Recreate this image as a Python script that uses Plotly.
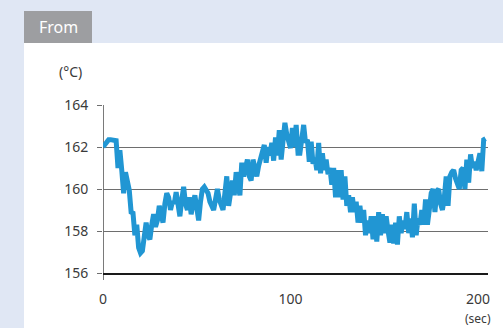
import plotly.graph_objects as go

seconds = list(range(0, 205))
temperature = [
    162.00, 162.15, 162.30, 162.35, 162.35, 162.35, 162.35, 162.30, 161.00, 161.85,
    160.90, 159.80, 160.80, 160.20, 159.95, 158.90, 158.85, 157.80, 158.30, 157.20,
    156.95, 157.05, 157.90, 158.40, 157.80, 157.60, 158.30, 158.80, 158.20, 158.50,
    159.20, 158.70, 158.40, 159.30, 159.80, 159.60, 159.00, 159.40, 159.30, 159.85,
    159.40, 158.70, 159.50, 160.10, 159.30, 159.00, 159.60, 158.80, 159.30, 159.70,
    159.10, 158.50, 159.40, 160.00, 160.10, 159.90, 159.80, 159.40, 159.20, 159.00,
    159.50, 160.00, 159.50, 159.20, 159.00, 159.80, 160.60, 159.20, 159.90, 160.40,
    159.70, 160.80, 160.20, 159.70, 161.25, 160.60, 161.00, 161.40, 160.60, 160.40,
    161.40, 161.00, 160.60, 161.10, 161.50, 161.70, 162.10, 161.25, 162.00, 161.60,
    162.20, 161.35, 162.45, 161.60, 162.80, 161.40, 162.30, 163.15, 162.60, 162.20,
    161.95, 162.90, 162.00, 163.05, 161.70, 161.70, 162.50, 163.05, 162.20, 162.35,
    161.30, 162.25, 161.20, 161.50, 160.90, 162.20, 160.75, 161.70, 160.90, 161.40,
    160.70, 161.00, 160.20, 161.00, 159.60, 160.90, 159.60, 160.90, 159.50, 160.60,
    159.20, 159.70, 158.90, 159.60, 158.90, 159.40, 158.40, 159.20, 158.40, 159.00,
    157.80, 158.50, 157.90, 158.70, 157.60, 158.70, 157.50, 158.90, 157.80, 158.80,
    157.90, 158.70, 158.00, 157.45, 158.30, 157.40, 158.40, 157.35, 158.70, 157.90,
    158.50, 158.10, 158.90, 157.90, 158.60, 157.70, 159.30, 157.80, 158.60, 158.30,
    159.00, 158.30, 159.50, 158.30, 159.00, 159.80, 160.00, 158.90, 159.90, 160.00,
    159.30, 159.00, 159.60, 160.60, 159.20, 160.60, 160.80, 160.90, 160.50, 160.30,
    160.00, 160.90, 161.00, 160.00, 161.40, 160.30, 161.65, 161.00, 161.30, 160.90,
    161.40, 161.70, 160.85, 162.35, 162.40,
]
y_ticks = [156, 158, 160, 162, 164]
x_ticks = [0, 100, 200]
tab_label = "From"
y_unit = "(°C)"
x_unit = "(sec)"

W, H = 503, 328
ML, MR, MT, MB = 103, 15, 105, 55
PW, PH = W - ML - MR, H - MT - MB
FONT = "Noto Sans, Open Sans, sans-serif"

fig = go.Figure()
fig.add_trace(go.Scatter(
    x=seconds, y=temperature, mode="lines",
    line=dict(color="#2196d3", width=5, shape="linear"),
    hoverinfo="skip", showlegend=False,
))

def px_x(p):
    return (p - ML) / PW

def px_y(p):
    return (H - MB - p) / PH

shapes = [
    # white panel
    dict(type="rect", xref="paper", yref="paper", x0=px_x(24), x1=px_x(W + 5),
         y0=px_y(H + 5), y1=px_y(43), fillcolor="white", line=dict(width=0), layer="below"),
    # tab
    dict(type="rect", xref="paper", yref="paper", x0=px_x(24), x1=px_x(92),
         y0=px_y(43), y1=px_y(11), fillcolor="#9d9ea1", line=dict(width=0), layer="below"),
    # y axis line extending below baseline
    dict(type="line", xref="x", yref="paper", x0=0, x1=0, y0=px_y(280), y1=px_y(105),
         line=dict(color="#7a7a7a", width=2), layer="below"),
]

fig.update_layout(
    width=W, height=H,
    margin=dict(l=ML, r=MR, t=MT, b=MB),
    paper_bgcolor="#e0e7f4",
    plot_bgcolor="rgba(0,0,0,0)",
    shapes=shapes,
    font=dict(family=FONT, size=14, color="#333333"),
    xaxis=dict(
        range=[0, 205.3], tickvals=x_ticks, ticktext=[str(v) for v in x_ticks],
        showgrid=False, zeroline=False, showline=True, linecolor="#1a1a1a", linewidth=1.5,
        ticks="", ticklabelstandoff=12, tickfont=dict(size=14, color="#3a3a3a"),
        fixedrange=True,
    ),
    yaxis=dict(
        range=[156, 164], tickvals=y_ticks, ticktext=[str(v) for v in y_ticks],
        showgrid=True, gridcolor="#6e6e6e", gridwidth=1.2, zeroline=False,
        showline=False, ticks="outside", ticklen=5, tickcolor="#6e6e6e", tickwidth=1.2,
        ticklabelstandoff=6, tickfont=dict(size=14, color="#3a3a3a"),
        fixedrange=True,
    ),
    annotations=[
        dict(text=tab_label, xref="paper", yref="paper", x=px_x(58), y=px_y(27),
             xanchor="center", yanchor="middle", showarrow=False,
             font=dict(family=FONT, size=16, color="white")),
        dict(text=y_unit, xref="paper", yref="paper", x=px_x(70), y=px_y(71),
             xanchor="center", yanchor="middle", showarrow=False,
             font=dict(family=FONT, size=14, color="#3a3a3a")),
        dict(text=x_unit, xref="paper", yref="paper", x=px_x(478), y=px_y(318),
             xanchor="center", yanchor="middle", showarrow=False,
             font=dict(family=FONT, size=12, color="#3a3a3a")),
    ],
)

fig.write_html("out.html", config={"displayModeBar": False})

with open("out.html", "r", encoding="utf-8") as f:
    html = f.read()
html = html.replace("<head>", "<head><style>html,body{margin:0;padding:0;overflow:hidden;}</style>", 1)
with open("out.html", "w", encoding="utf-8") as f:
    f.write(html)
